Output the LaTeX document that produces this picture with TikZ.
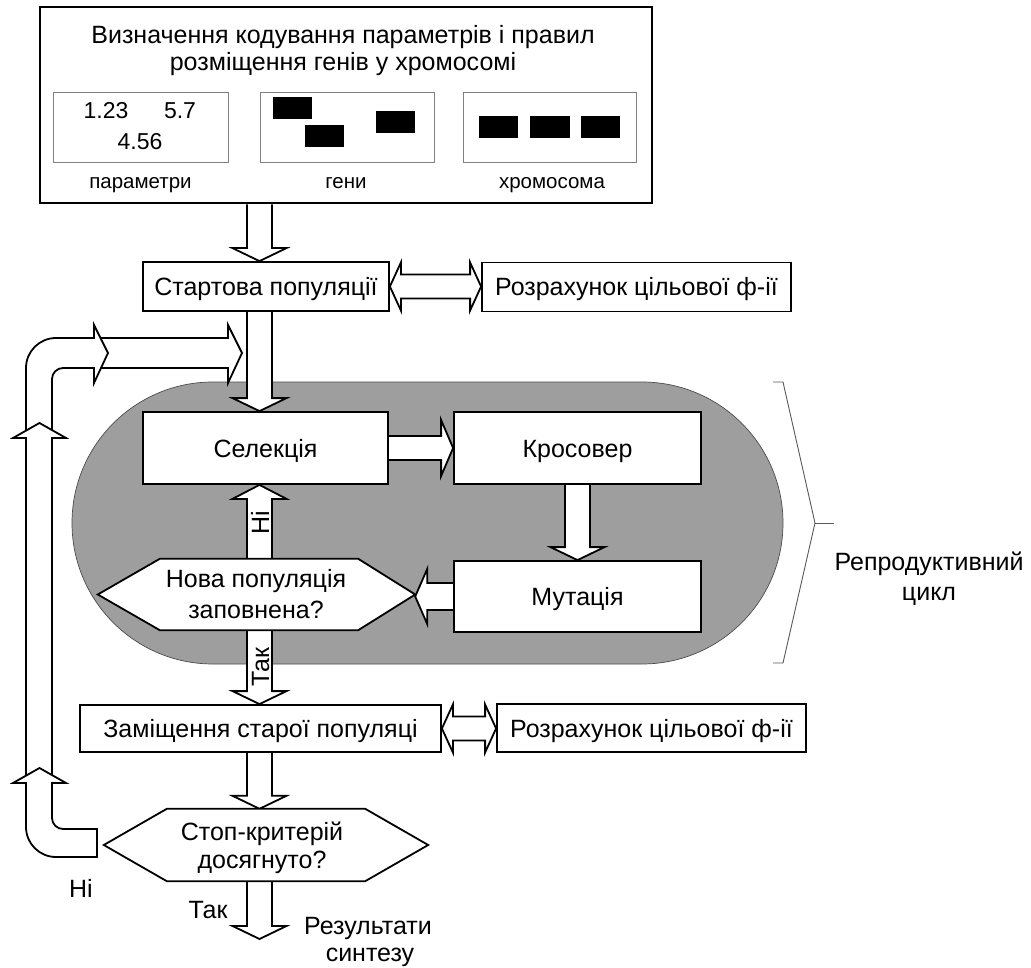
\documentclass[tikz,border=0pt]{standalone}
\usepackage{fontspec}
\setmainfont{Liberation Sans}
\usetikzlibrary{calc}
\pgfdeclarelayer{bg}
\pgfdeclarelayer{stad}
\pgfdeclarelayer{arr}
\pgfsetlayers{bg,stad,arr,main}
\tikzset{
  blk/.style={draw=black, fill=white, line width=1.8pt, line join=miter, miter limit=20},
  box/.style={draw=black, fill=white, line width=1.8pt, inner sep=0pt, align=center,
    font=\fontsize{25}{30}\selectfont, text height=18pt, text depth=0pt},
  inbox/.style={draw=black!50, fill=white, line width=0.9pt, inner sep=0pt},
  txt/.style={inner sep=0pt, anchor=base, font=\fontsize{25}{30}\selectfont},
  rtxt/.style={inner sep=0pt, font=\fontsize{25}{30}\selectfont, text height=18pt, text depth=0pt, rotate=90},
  smalltxt/.style={inner sep=0pt, anchor=base, font=\fontsize{20.5}{24}\selectfont},
  numtxt/.style={inner sep=0pt, anchor=base, font=\fontsize{23}{27}\selectfont},
  gene/.style={fill=black},
  brace/.style={draw=black!65, line width=0.9pt},
}
% block arrows: #1 start, #2 tip
\newcommand\arrD[2]{\filldraw[blk] let \p1=#1, \p2=#2 in
  (\x1-12.5pt,\y1) -- (\x1-12.5pt,\y2+13pt) -- (\x1-27pt,\y2+13pt) -- (\x1,\y2)
  -- (\x1+27pt,\y2+13pt) -- (\x1+12.5pt,\y2+13pt) -- (\x1+12.5pt,\y1);}
\newcommand\arrU[2]{\filldraw[blk] let \p1=#1, \p2=#2 in
  (\x1-12.5pt,\y1) -- (\x1-12.5pt,\y2-14pt) -- (\x1-27pt,\y2-14pt) -- (\x1,\y2)
  -- (\x1+27pt,\y2-14pt) -- (\x1+12.5pt,\y2-14pt) -- (\x1+12.5pt,\y1);}
\newcommand\arrR[2]{\filldraw[blk] let \p1=#1, \p2=#2 in
  (\x1,\y1+12pt) -- (\x2-12pt,\y1+12pt) -- (\x2-12pt,\y1+28pt) -- (\x2,\y1)
  -- (\x2-12pt,\y1-28pt) -- (\x2-12pt,\y1-12pt) -- (\x1,\y1-12pt);}
\newcommand\arrL[2]{\filldraw[blk] let \p1=#1, \p2=#2 in
  (\x1,\y1+13.5pt) -- (\x2+12pt,\y1+13.5pt) -- (\x2+12pt,\y1+27.5pt) -- (\x2,\y1)
  -- (\x2+12pt,\y1-27.5pt) -- (\x2+12pt,\y1-13.5pt) -- (\x1,\y1-13.5pt);}
\newcommand\arrLR[2]{\filldraw[blk] let \p1=#1, \p2=#2 in
  (\x1,\y1) -- (\x1+11pt,\y1+24pt) -- (\x1+11pt,\y1+12pt) -- (\x2-11pt,\y1+12pt)
  -- (\x2-11pt,\y1+24pt) -- (\x2,\y1) -- (\x2-11pt,\y1-24pt) -- (\x2-11pt,\y1-12pt)
  -- (\x1+11pt,\y1-12pt) -- (\x1+11pt,\y1-24pt) -- cycle;}

\begin{document}
\begin{tikzpicture}[x=1pt,y=-1pt]
\useasboundingbox (0,0) rectangle (1031,968);
\begin{pgfonlayer}{bg}
\fill[white] (0,0) rectangle (1031,968);
\end{pgfonlayer}

% ---------- top block ----------
\node[box, line width=2.6pt, minimum width=612pt, minimum height=196pt] (top) at (346,105) {};
\node[txt] (title1) at (343,44) {Визначення кодування параметрів і правил};
\node[txt] (title2) at (343,71) {розміщення генів у хромосомі};
\node[inbox, minimum width=175pt, minimum height=70pt] (par) at (140.5,127) {};
\node[inbox, minimum width=174pt, minimum height=70pt] (gen) at (347,127) {};
\node[inbox, minimum width=173pt, minimum height=70pt] (chr) at (549.5,127) {};
\node[numtxt] (n1) at (106,119) {1.23};
\node[numtxt] (n2) at (180,119) {5.7};
\node[numtxt] (n3) at (140,150) {4.56};
\fill[gene] (273,97) rectangle (312,119);
\fill[gene] (305,125) rectangle (344,147);
\fill[gene] (376,111) rectangle (415,133);
\fill[gene] (479,116) rectangle (518,138);
\fill[gene] (530,116) rectangle (570,138);
\fill[gene] (581,116) rectangle (620,138);
\node[smalltxt] (lpar) at (140.5,189) {параметри};
\node[smalltxt] (lgen) at (346,189) {гени};
\node[smalltxt] (lchr) at (552,189) {хромосома};

% ---------- stadium ----------
\begin{pgfonlayer}{stad}
\filldraw[fill=black!38, draw=black!70, line width=0.7pt]
  (213,382) -- (642,382) arc[start angle=-90, end angle=90, radius=141]
  -- (213,664) arc[start angle=90, end angle=270, radius=141] -- cycle;
\end{pgfonlayer}

% ---------- boxes ----------
\coordinate (col) at (259.5,0);
\node[box, minimum width=246pt, minimum height=49pt] (start) at (266,286.5) {Стартова популяції};
\node[box, minimum width=309pt, minimum height=49pt] (calc1) at (636.5,287) {Розрахунок цільової ф-ії};
\node[box, minimum width=245pt, minimum height=72pt] (sel) at (265.5,448) {Селекція};
\node[box, minimum width=247pt, minimum height=72pt] (cro) at (577.5,448) {Кросовер};
\node[box, minimum width=247pt, minimum height=71pt] (mut) at (577.5,596.5) {Мутація};
\node[box, minimum width=361pt, minimum height=47pt] (repl) at (260.5,728.5) {Заміщення старої популяці};
\node[box, minimum width=309pt, minimum height=48pt] (calc2) at (651.5,728) {Розрахунок цільової ф-ії};

% hexagon 1
\node[minimum width=317pt, minimum height=71pt, inner sep=0pt] (new) at (256.5,594.5) {};
\filldraw[blk] (new.west) -- ($(new.north west)+(62,0)$) -- ($(new.north east)+(-57,0)$)
  -- (new.east) -- ($(new.south east)+(-57,0)$) -- ($(new.south west)+(62,0)$) -- cycle;
\node[txt] (new1) at (256,587) {Нова популяція};
\node[txt] (new2) at (256,618) {заповнена?};

% hexagon 2
\node[minimum width=324pt, minimum height=72pt, inner sep=0pt] (stop) at (266,845) {};
\filldraw[blk] (stop.west) -- ($(stop.north west)+(63,0)$) -- ($(stop.north east)+(-63,0)$)
  -- (stop.east) -- ($(stop.south east)+(-63,0)$) -- ($(stop.south west)+(63,0)$) -- cycle;
\node[txt] (stop1) at (262,840) {Стоп-критерій};
\node[txt] (stop2) at (262,868) {досягнуто?};

\coordinate (res) at (259.5,939);

% ---------- arrows ----------
\begin{pgfonlayer}{arr}
% loop (upper horizontal part)
\filldraw[blk] (90,338) -- (228,338) -- (228,325) -- (242,353) -- (228,383) -- (228,368) -- (90,368);
% upper bend
\filldraw[blk] (52,445) -- (52,379) arc[start angle=180, end angle=270, radius=11]
  -- (94,368) -- (94,383) -- (108,353) -- (94,325) -- (94,338) -- (56,338)
  arc[start angle=270, end angle=180, radius=30] -- (26,445);
% vertical middle
\filldraw[blk] (26,790) -- (26,438) -- (13,438) -- (39.5,423) -- (66,438) -- (52,438) -- (52,790);
% lower bend
\filldraw[blk] (97,829) -- (63,829) arc[start angle=90, end angle=180, radius=11]
  -- (52,783) -- (66,783) -- (39.5,768) -- (13,783) -- (26,783) -- (26,827)
  arc[start angle=180, end angle=90, radius=30] -- (97,857) -- cycle;

\arrD{(col|-top.south)}{(col|-start.north)}
\arrD{(col|-start.south)}{(col|-sel.north)}
\arrR{(sel.east)}{(cro.west)}
\arrD{(cro.south)}{(mut.north)}
\arrL{(mut.west)}{(new.east)}
\arrU{(col|-new.north)}{(col|-sel.south)}
\arrD{(col|-new.south)}{(col|-repl.north)}
\arrD{(col|-repl.south)}{(col|-stop.north)}
\arrD{(col|-stop.south)}{(res)}
\arrLR{(start.east)}{(calc1.west)}
\arrLR{(repl.east)}{(calc2.west)}
\node[rtxt] (lno1) at (260,523) {Ні};
\node[rtxt] (lyes1) at (260,667) {Так};
\end{pgfonlayer}

% ---------- bottom labels ----------
\node[txt] (lyes2) at (208,918) {Так};
\node[txt] (lno2) at (81,897) {Ні};
\node[txt] (lres1) at (368,934) {Результати};
\node[txt] (lres2) at (370,961) {синтезу};

% ---------- bracket ----------
\draw[brace] (773,382) -- (783,382) -- (815,523) -- (783,663) -- (773,663);
\draw[brace] (815,523) -- (834,523);
\node[txt] (lcyc1) at (929,570) {Репродуктивний};
\node[txt] (lcyc2) at (929,600) {цикл};
\end{tikzpicture}
\end{document}
